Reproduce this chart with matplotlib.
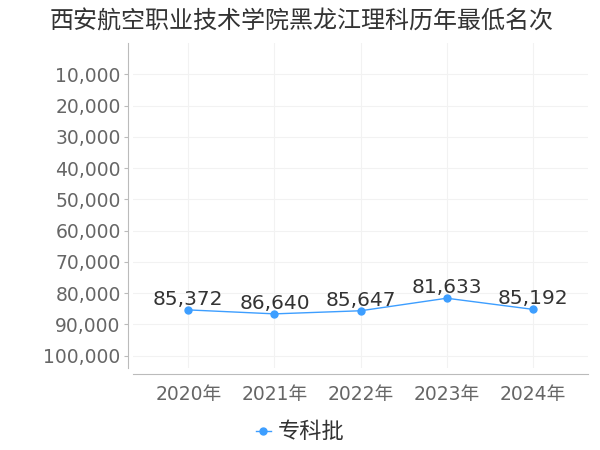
import matplotlib.pyplot as plt
from matplotlib.ticker import FuncFormatter

plt.rcParams['font.family'] = ['DejaVu Sans', 'Noto Sans CJK SC']

# data
years = ['2020年', '2021年', '2022年', '2023年', '2024年']
ranks = [85372, 86640, 85647, 81633, 85192]
series_name = '专科批'
yticks = [10000, 20000, 30000, 40000, 50000, 60000, 70000, 80000, 90000, 100000]

line_color = '#3d9eff'

fig = plt.figure(figsize=(6, 4.5), dpi=100)
ax = fig.add_axes([0.222, 0.182, 0.758, 0.722])

x = list(range(len(years)))
ax.plot(x, ranks, color=line_color, lw=1, marker='o', markersize=5, label=series_name)

# value labels above points
for xi, v in zip(x, ranks):
    ax.annotate(f'{v:,}', (xi, v), xytext=(0, 3.5), textcoords='offset points',
                ha='center', va='baseline', fontsize=14.5, color='#333333')

ax.set_xlim(-0.64, 4.64)
ax.set_ylim(104000, 0)
ax.set_xticks(x)
ax.set_xticklabels(years)
ax.set_yticks(yticks)
ax.yaxis.set_major_formatter(FuncFormatter(lambda v, p: f'{int(v):,}'))

ax.grid(True, color='#f2f2f2', lw=0.8)
ax.set_axisbelow(True)
for s in ['top', 'right']:
    ax.spines[s].set_visible(False)
for s in ['left', 'bottom']:
    ax.spines[s].set_color('#bbbbbb')
    ax.spines[s].set_position(('outward', 4))
ax.tick_params(axis='y', length=3, color='#bbbbbb', labelsize=13.5, labelcolor='#666666', pad=2)
ax.tick_params(axis='x', length=0, labelsize=13.5, labelcolor='#666666', pad=8)

fig.text(0.083, 0.953, '西安航空职业技术学院黑龙江理科历年最低名次', fontsize=17.3,
         color='#333333', ha='left', va='center', family=['Noto Sans CJK SC', 'DejaVu Sans'])

leg = fig.legend(loc='center', bbox_to_anchor=(0.5, 0.04), frameon=False,
                 handlelength=0.7, handletextpad=0.3,
                 prop={'family': ['Noto Sans CJK SC', 'DejaVu Sans'], 'size': 16})
for t in leg.get_texts():
    t.set_color('#333333')

fig.savefig('out.png', dpi=100)
